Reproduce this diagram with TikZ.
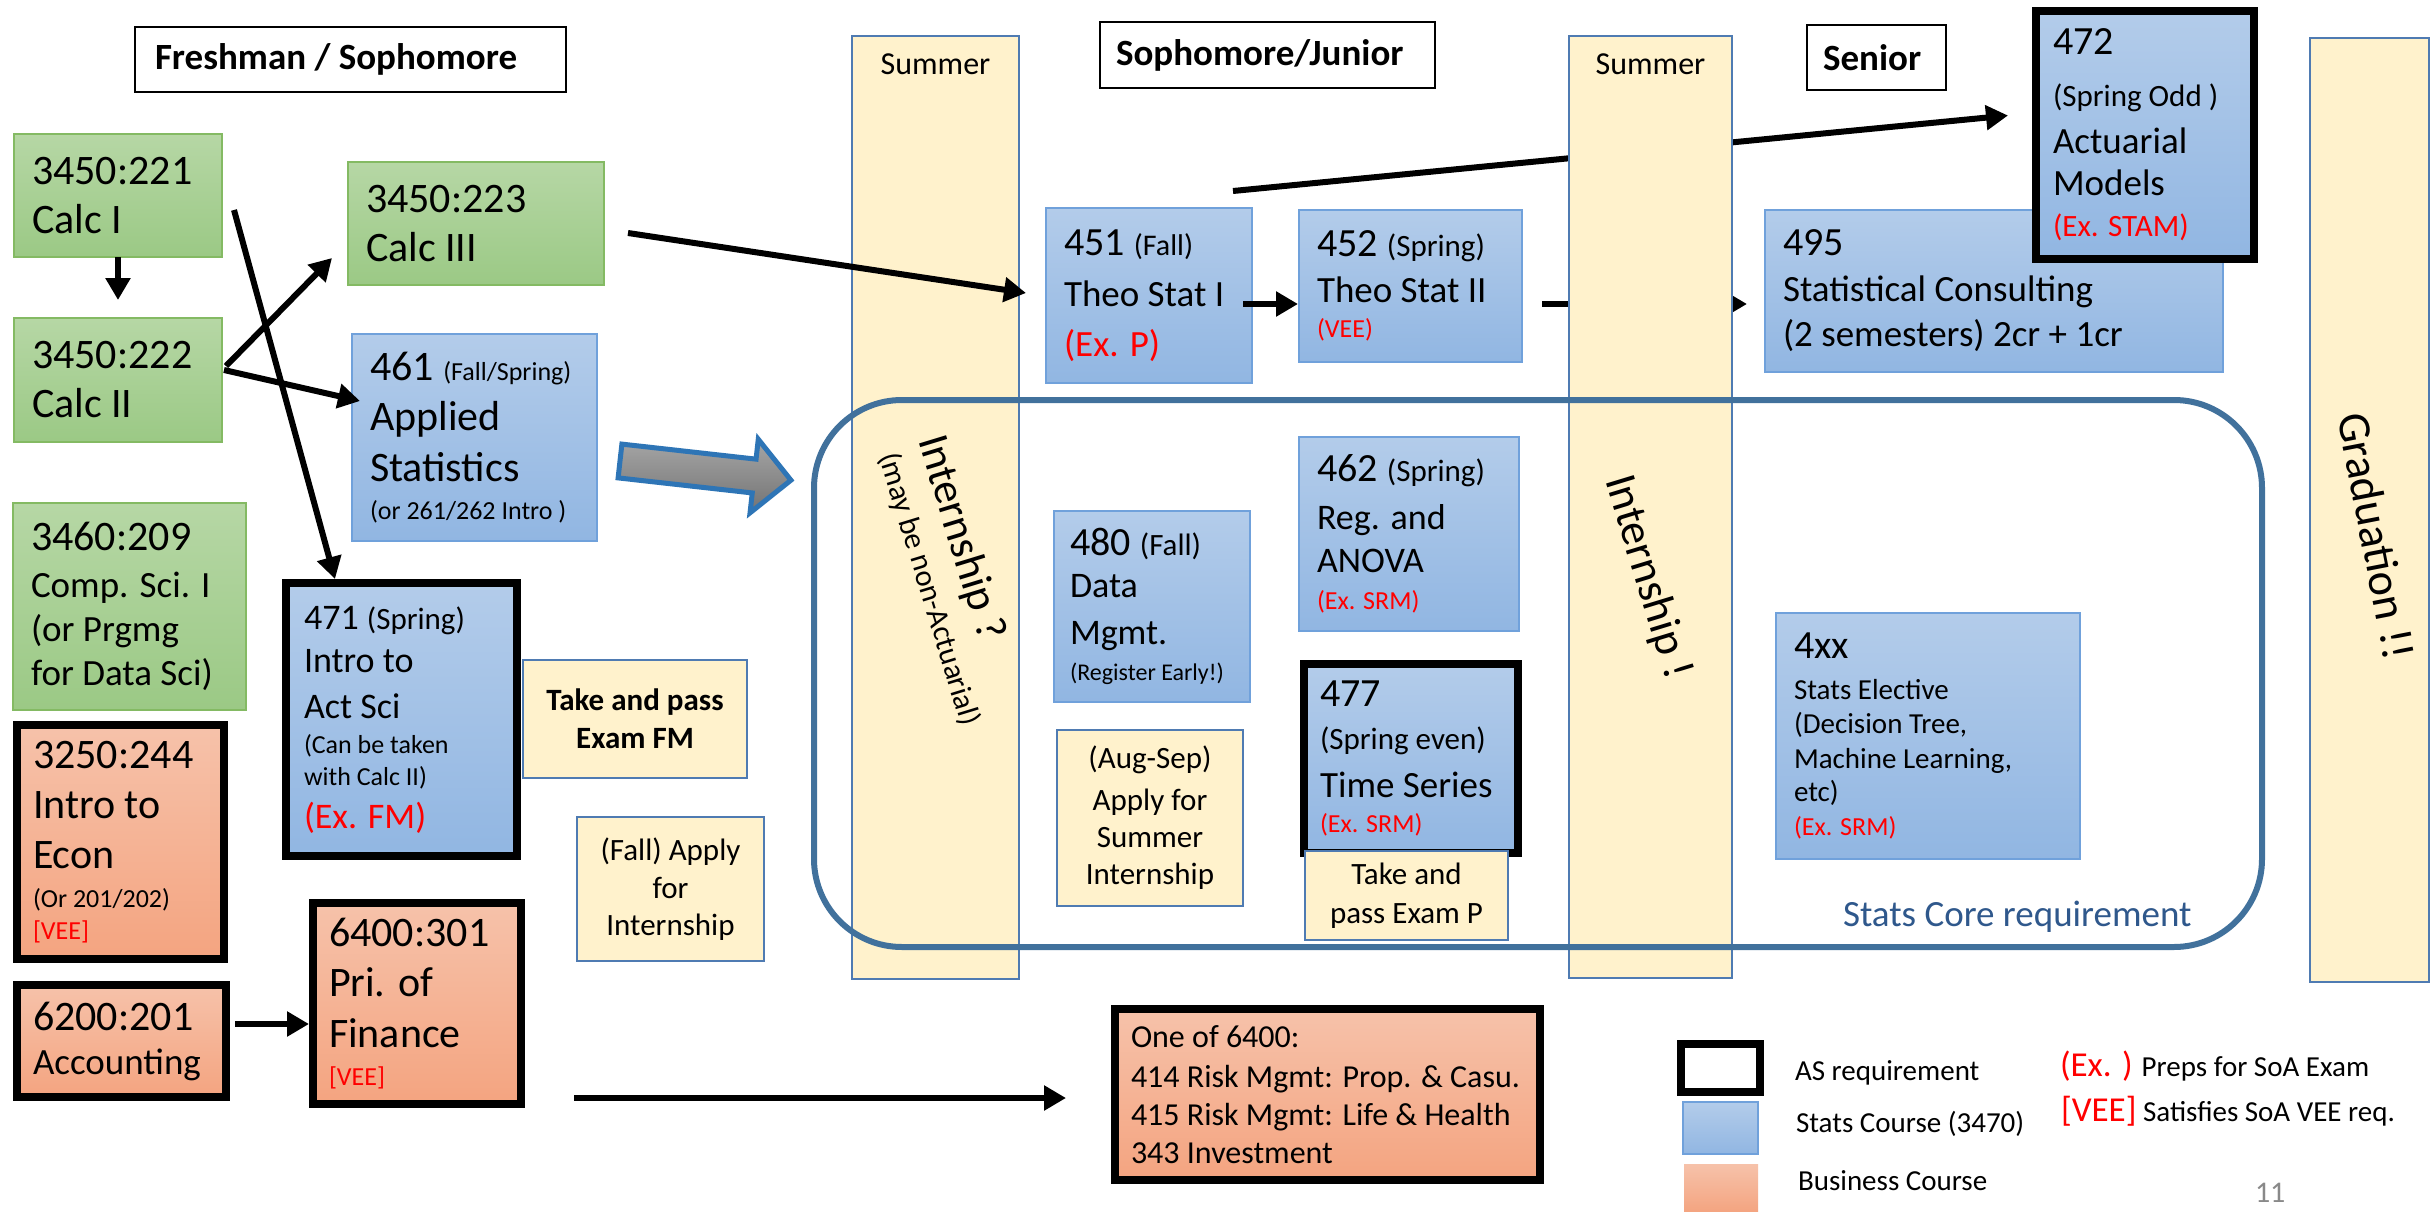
\documentclass[tikz,border=0pt]{standalone}
\usepackage{fontspec}
\setmainfont{Carlito}
\usetikzlibrary{arrows.meta}
\setlength\parindent{0pt}
\definecolor{gtop}{RGB}{182,215,165}
\definecolor{gbot}{RGB}{155,201,133}
\definecolor{gbrd}{RGB}{132,186,99}
\definecolor{btop}{RGB}{179,204,234}
\definecolor{bbot}{RGB}{145,182,226}
\definecolor{bbrd}{RGB}{112,161,219}
\definecolor{otop}{RGB}{246,194,170}
\definecolor{obot}{RGB}{244,164,128}
\definecolor{yfill}{RGB}{255,242,204}
\definecolor{ybrd}{RGB}{79,123,178}
\definecolor{corebl}{RGB}{65,113,156}
\definecolor{coretxt}{RGB}{47,88,140}
\definecolor{arrbrd}{RGB}{46,117,182}
\definecolor{pgray}{RGB}{137,137,137}
\newcommand\txl[3]{{\fontsize{#1}{#2}\selectfont\spaceskip=0pt\xspaceskip=0pt\mbox{#3}\par}}
\newcommand\sm[2]{{\fontsize{#1}{#1}\selectfont #2}}
\newcommand\coursebox[8][18]{%
  \pgfmathsetlengthmacro\cbw{(#6)-(#4)}%
  \pgfmathsetlengthmacro\cbh{(#7)-(#5)}%
  \pgfmathsetlengthmacro\cbt{(#6)-(#4)-2*(#1)}%
  \node[#3, anchor=north west, minimum width=\cbw, minimum height=\cbh,
        text width=\cbt, inner xsep=#1pt, inner ysep=0pt, outer sep=0pt] (#2) at (#4,#5) {#8};}
\tikzset{
  greenbox/.style={draw=gbrd, line width=1.8pt, top color=gtop, bottom color=gbot, align=left},
  bluebox/.style={draw=bbrd, line width=1.8pt, top color=btop, bottom color=bbot, align=left},
  bluethick/.style={draw=black, line width=8pt, top color=btop, bottom color=bbot, align=left},
  orangethick/.style={draw=black, line width=8pt, top color=otop, bottom color=obot, align=left},
  orangeplain/.style={top color=otop, bottom color=obot},
  yelbox/.style={draw=ybrd, line width=2.5pt, fill=yfill, align=center},
  colbox/.style={draw=ybrd, line width=2.5pt, fill=yfill},
  hdrbox/.style={draw=black, line width=2.5pt, fill=white, align=left},
  asbox/.style={draw=black, line width=8pt, fill=white},
  lbl/.style={inner sep=0pt, outer sep=0pt},
  conn/.style={line width=6pt, -{Triangle[width=24pt,length=22pt]}},
}
\begin{document}
\begin{tikzpicture}[x=1pt,y=-1pt]
\useasboundingbox (0,0) rectangle (2436,1212);
\fill[white] (0,0) rectangle (2436,1212);

% ---------- headers
\coursebox[20]{hfresh}{hdrbox}{135}{27}{566}{92}{\txl{37}{45}{\bfseries Freshman / Sophomore}}
\coursebox[16]{hsoph}{hdrbox}{1100}{22}{1435}{88}{\txl{37}{45}{\bfseries Sophomore/Junior}}
\coursebox[16]{hsenior}{hdrbox}{1807}{25}{1946}{90}{\txl{37}{45}{\bfseries Senior}}

% ---------- green courses
\coursebox{c221}{greenbox}{14}{134}{222}{257}{\txl{42}{50}{3450:221}\txl{42}{49}{Calc I}}
\coursebox{c222}{greenbox}{14}{318}{222}{442}{\txl{42}{50}{3450:222}\txl{42}{49}{Calc II}}
\coursebox{c223}{greenbox}{348}{162}{604}{285}{\txl{42}{50}{3450:223}\txl{42}{49}{Calc III}}
\coursebox{c209}{greenbox}{13}{503}{246}{710}{\txl{42}{50}{3460:209}\txl{37}{47}{Comp. Sci. I}\txl{37}{44}{(or Prgmg}\txl{37}{44}{for Data Sci)}}

% ---------- business courses
\coursebox[16]{b244}{orangethick}{17}{725}{224}{959}{\txl{42}{50}{3250:244}\txl{42}{50}{Intro to}\txl{42}{50}{Econ}\txl{26}{39}{(Or 201/202)}\txl{26}{31.5}{\color{red}[VEE]}}
\coursebox[16]{b201}{orangethick}{17}{985}{226}{1097}{\txl{42}{50}{6200:201}\txl{37}{44}{Accounting}}
\coursebox[16]{b301}{orangethick}{313}{903}{521}{1104}{\txl{42}{50}{6400:301}\txl{42}{50}{Pri. of}\txl{42}{51}{Finance}\txl{26}{38}{\color{red}[VEE]}}
\coursebox[16]{b6400}{orangethick}{1115}{1009}{1540}{1180}{\txl{32}{40}{One of 6400:}\txl{32}{40}{414 Risk Mgmt: Prop. \& Casu.}\txl{32}{37.5}{415 Risk Mgmt: Life \& Health}\txl{32}{38}{343 Investment}}

% ---------- stats courses
\coursebox{s461}{bluebox}{352}{334}{597}{541}{\txl{42}{50}{461 \sm{26}{(Fall/Spring)}}\txl{42}{49.5}{Applied}\txl{42}{51}{Statistics}\txl{26}{38}{(or 261/262 Intro )}}
\coursebox[18]{s471}{bluethick}{286}{583}{517}{856}{\txl{36}{44}{471 \sm{31}{(Spring)}}\txl{36}{43}{Intro to}\txl{36}{46}{Act Sci}\txl{26}{35}{(Can be taken}\txl{26}{32}{with Calc II)}\txl{36}{43}{\color{red}(Ex. FM)}}
\coursebox{s451}{bluebox}{1046}{208}{1252}{383}{\txl{40}{50}{451 \sm{30}{(Fall)}}\txl{37}{51}{Theo Stat I}\txl{37}{50}{\color{red}(Ex. P)}}
\coursebox{s452}{bluebox}{1299}{210}{1522}{362}{\txl{40}{50}{452 \sm{31}{(Spring)}}\txl{37}{45.5}{Theo Stat II}\txl{26}{35.5}{\color{red}(VEE)}}
\coursebox{s462}{bluebox}{1299}{437}{1519}{631}{\txl{40}{50}{462 \sm{31}{(Spring)}}\txl{36}{48}{Reg. and}\txl{36}{43}{ANOVA}\txl{26}{37}{\color{red}(Ex. SRM)}}
\coursebox[16]{s480}{bluebox}{1054}{511}{1250}{702}{\txl{40}{50}{480 \sm{31}{(Fall)}}\txl{36}{42}{Data}\txl{36}{47}{Mgmt.}\txl{24}{36}{(Register Early!)}}
\coursebox[16]{s477}{bluethick}{1304}{664}{1518}{853}{\txl{40}{50}{477}\txl{31}{43}{(Spring even)}\txl{37}{48}{Time Series}\txl{26}{35.5}{\color{red}(Ex. SRM)}}
\coursebox{s495}{bluebox}{1765}{210}{2223}{372}{\txl{40}{50}{495}\txl{37}{45.5}{Statistical Consulting}\txl{37}{45.5}{(2 semesters) 2cr + 1cr}}
\coursebox[17]{s472}{bluethick}{2036}{11}{2254}{259}{\txl{40}{50}{472}\txl{31}{52}{(Spring Odd )}\txl{37}{47}{Actuarial}\txl{37}{42}{Models}\txl{31}{41}{\color{red}(Ex. STAM)}}
\coursebox{s4xx}{bluebox}{1776}{613}{2080}{859}{\txl{40}{50}{4xx}\txl{29}{41}{Stats Elective}\txl{29}{34}{(Decision Tree,}\txl{29}{35}{Machine Learning,}\txl{29}{33}{etc)}\txl{26}{34}{\color{red}(Ex. SRM)}}

% ---------- yellow notes
\coursebox[6]{yfm}{yelbox}{523}{660}{747}{778}{\txl{31}{38}{\bfseries Take and pass}\txl{31}{38}{\bfseries Exam FM}}
\coursebox[6]{yfall}{yelbox}{577}{817}{764}{961}{\txl{31}{38}{(Fall) Apply}\txl{31}{38}{for}\txl{31}{37}{Internship}}
\coursebox[6]{yaug}{yelbox}{1057}{730}{1243}{906}{\txl{31}{38}{(Aug-Sep)}\txl{31}{41.5}{Apply for}\txl{31}{37.5}{Summer}\txl{31}{37}{Internship}}
\coursebox[6]{yp}{yelbox}{1305}{851}{1508}{940}{\txl{31}{38}{Take and}\txl{31}{39.5}{pass Exam P}}

% ---------- connectors hidden behind the second summer column
\draw[conn] ([xshift=-19pt,yshift=17pt]s451.north east) -- ([xshift=-28pt,yshift=19.5pt]s472.west);
\draw[conn] ([xshift=20pt,yshift=-18pt]s452.east) -- ([xshift=-18pt,yshift=-13pt]s495.west);

% ---------- summer / graduation columns
\coursebox{sum1}{colbox}{852}{36}{1019}{979}{}
\coursebox{sum2}{colbox}{1569}{36}{1732}{978}{}
\coursebox{gradcol}{colbox}{2310}{38}{2429}{982}{}
\node[lbl, anchor=base, font=\fontsize{32}{32}\selectfont] (sum1lbl) at (935.5,75) {Summer};
\node[lbl, anchor=base, font=\fontsize{32}{32}\selectfont] (sum2lbl) at (1650.5,75) {Summer};
\node[lbl, anchor=base west, rotate=-73, font=\fontsize{44}{44}\selectfont] (int1a) at (918,440) {Internship ?};
\node[lbl, anchor=base west, rotate=-73, font=\fontsize{30.5}{30.5}\selectfont] (int1b) at (879,456) {(may be non-Actuarial)};
\node[lbl, anchor=base west, rotate=-73, font=\fontsize{45}{45}\selectfont] (int2) at (1605,480) {Internship !};
\node[lbl, anchor=base west, rotate=-79, font=\fontsize{46}{46}\selectfont] (gradlbl) at (2337,416) {Graduation !!};

% ---------- stats core frame
\node[draw=corebl, line width=6pt, rounded corners=88pt, minimum width=1448pt, minimum height=547pt,
      anchor=north west, inner sep=0pt, outer sep=0pt] (core) at (814,400) {};
\node[lbl, anchor=base west, text=coretxt, font=\fontsize{37}{37}\selectfont] (corelbl) at (1843,926) {Stats Core requirement};

% ---------- big grey arrow
\begin{scope}[shift={(620,461)}, rotate=-6.4]
\draw[line width=5pt, draw=arrbrd, top color=black!35, bottom color=black!55, line join=miter]
  (0,-17) -- (135,-17) -- (135,-37) -- (172,0) -- (135,37) -- (135,17) -- (0,17) -- cycle;
\end{scope}

% ---------- connectors
\draw[conn] (c221.south) -- ([yshift=18pt]c222.north);
\draw[conn] ([xshift=4pt,yshift=14pt]c222.east) -- ([xshift=-16pt,yshift=27pt]c223.south west);
\draw[conn] ([xshift=2pt,yshift=10pt]c222.east) -- ([xshift=8pt,yshift=36.5pt]s461.west);
\draw[conn] ([xshift=12pt,yshift=-14.5pt]c221.east) -- ([xshift=49pt,yshift=4pt]s471.north west);
\draw[conn] ([xshift=24pt,yshift=-9.5pt]c223.east) -- ([xshift=-20pt,yshift=2.5pt]s451.west);
\draw[conn] ([xshift=-9pt,yshift=-8.5pt]s451.east) -- ([xshift=-1pt,yshift=-18pt]s452.west);
\draw[conn] ([xshift=9pt,yshift=17pt]b201.east) -- ([xshift=-4pt,yshift=-20.5pt]b301.west);
\draw[conn] ([xshift=53pt,yshift=-94.5pt]b301.east) -- ([xshift=-49pt,yshift=-3.5pt]b6400.west);

% ---------- legend
\coursebox{legas}{asbox}{1681}{1044}{1760}{1092}{}
\coursebox{legst}{bluebox}{1683}{1102}{1758}{1154}{}
\coursebox{legbu}{orangeplain}{1684}{1164}{1758}{1212}{}
\node[lbl, anchor=base west, font=\fontsize{29}{29}\selectfont] (legastxt) at (1795,1080) {AS requirement};
\node[lbl, anchor=base west, font=\fontsize{29}{29}\selectfont] (legsttxt) at (1796,1132) {Stats Course (3470)};
\node[lbl, anchor=base west, font=\fontsize{29}{29}\selectfont] (legbutxt) at (1798,1190) {Business Course};
\node[lbl, anchor=base west, font=\fontsize{29}{29}\selectfont] (legex) at (2060,1076) {\textcolor{red}{\fontsize{35}{35}\selectfont (Ex. )} Preps for SoA Exam};
\node[lbl, anchor=base west, font=\fontsize{29}{29}\selectfont] (legvee) at (2061,1121) {\textcolor{red}{\fontsize{35}{35}\selectfont [VEE]} Satisfies SoA VEE req.};
\node[lbl, anchor=base west, text=pgray, font=\fontsize{30}{30}\selectfont] (pgnum) at (2255,1202) {11};
\end{tikzpicture}
\end{document}
